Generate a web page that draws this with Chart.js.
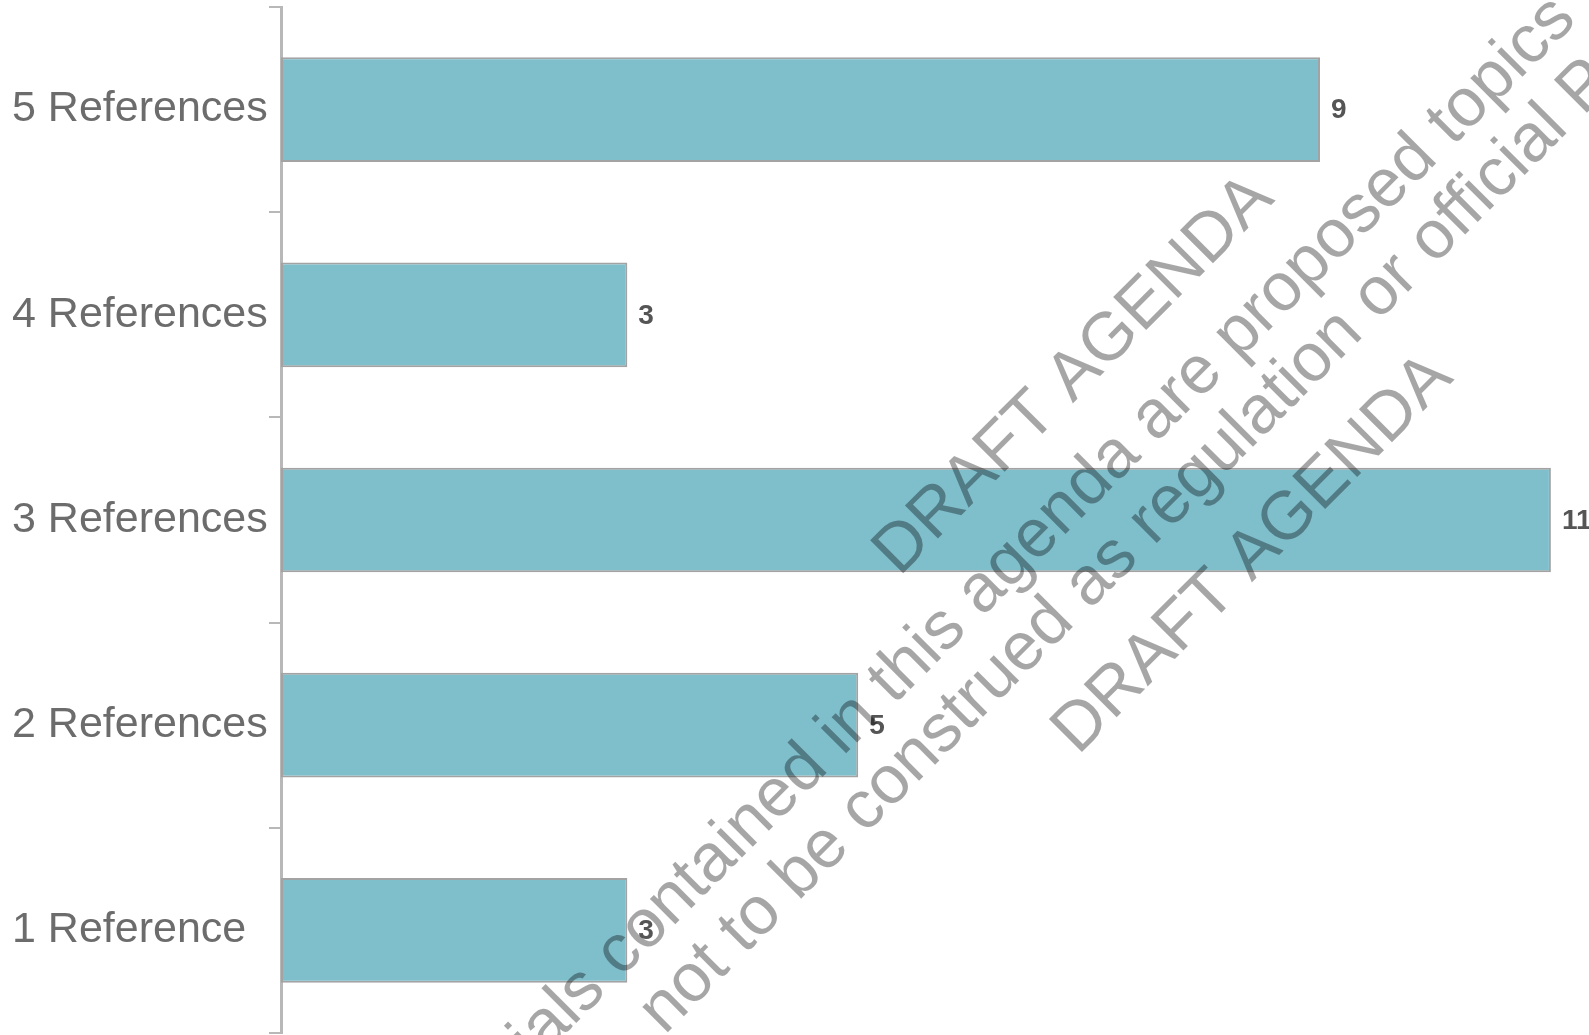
<!DOCTYPE html>
<html>
<head>
<meta charset="utf-8">
<script src="https://cdn.jsdelivr.net/npm/chart.js@4.4.0/dist/chart.umd.min.js"></script>
<style>
  html, body { margin: 0; padding: 0; background: #fff; }
  #wrap { width: 1589px; height: 1035px; position: relative; }
</style>
</head>
<body>
<div id="wrap"><canvas id="bar"></canvas></div>
<script>
const categories = ["5 References", "4 References", "3 References", "2 References", "1 Reference"];
const counts = [9, 3, 11, 5, 3];
const xMax = 11.33;

const watermarkLines = [
  "DRAFT AGENDA",
  "Materials contained in this agenda are proposed topics",
  "not to be construed as regulation or official Policy",
  "DRAFT AGENDA",
];

// numbers at the end of each bar
const valueLabels = {
  id: "valueLabels",
  afterDatasetsDraw(chart) {
    const ctx = chart.ctx;
    const meta = chart.getDatasetMeta(0);
    ctx.save();
    ctx.font = "bold 28px 'Liberation Sans', Arial, sans-serif";
    ctx.fillStyle = "#555555";
    ctx.textAlign = "left";
    ctx.textBaseline = "middle";
    meta.data.forEach((bar, i) => {
      ctx.fillText(String(counts[i]), bar.x + 11, bar.y + 1);
    });
    ctx.restore();
  },
};

// diagonal stamp over the chart
const watermark = {
  id: "watermark",
  afterDraw(chart) {
    const ctx = chart.ctx;
    ctx.save();
    ctx.translate(902, 580);
    ctx.rotate(-Math.PI / 4);
    ctx.font = "68px 'Liberation Sans', Arial, sans-serif";
    ctx.fillStyle = "rgba(0,0,0,0.35)";
    ctx.textBaseline = "alphabetic";
    ctx.textAlign = "left";
    const starts = [0, -775, -490, 0];
    const shifts = [-4, 0, -12, 0];
    watermarkLines.forEach((line, i) => {
      ctx.fillText(line, starts[i], i * 83 + shifts[i]);
    });
    ctx.restore();
  },
};

$ = (s) => document.querySelector(s);

new Chart($("#bar"), {
  type: "bar",
  data: {
    labels: categories,
    datasets: [
      {
        data: counts,
        backgroundColor: "#7fbfcc",
        borderColor: "#a3a3a3",
        borderWidth: 2,
        borderSkipped: false,
        barPercentage: 0.51,
        categoryPercentage: 1,
      },
    ],
  },
  options: {
    indexAxis: "y",
    responsive: true,
    maintainAspectRatio: false,
    animation: false,
    layout: { padding: { left: 12, top: 7, bottom: 2, right: 0 } },
    plugins: {
      legend: { display: false },
      tooltip: { enabled: false },
    },
    scales: {
      x: { display: false, min: 0, max: xMax },
      y: {
        position: "left",
        afterFit(scale) {
          scale.width = 269;
          scale.paddingTop = 0;
          scale.paddingBottom = 0;
        },
        grid: {
          drawOnChartArea: false,
          offset: true,
          tickLength: 12,
          color: "#b8b8b8",
          lineWidth: 2,
        },
        border: { display: true, color: "#b8b8b8", width: 3 },
        ticks: {
          crossAlign: "far",
          padding: 3,
          color: "#6c6c6c",
          font: { size: 43, family: "'Liberation Sans', Arial, sans-serif" },
        },
      },
    },
  },
  plugins: [valueLabels, watermark],
});
</script>
</body>
</html>
